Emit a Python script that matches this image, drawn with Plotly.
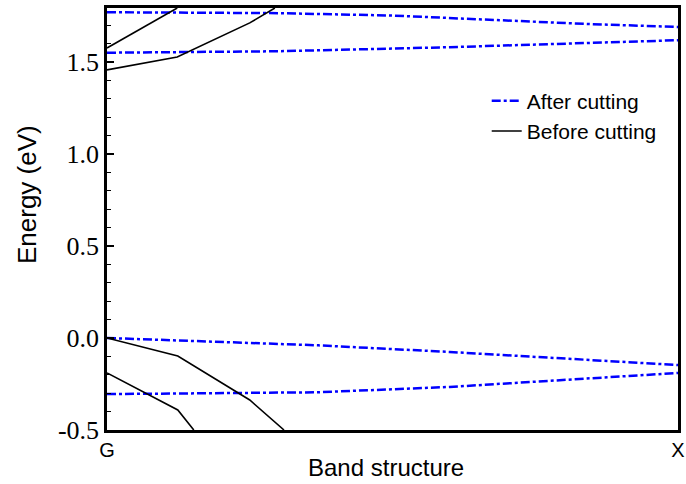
import plotly.graph_objects as go

# k-path positions (fraction from G to X)
after_k1 = [0.0, 0.3, 0.5, 0.7, 0.85, 1.0]
after_e1 = [1.770, 1.765, 1.752, 1.725, 1.705, 1.690]
after_k2 = [0.0, 0.3, 0.6, 1.0]
after_e2 = [1.550, 1.558, 1.580, 1.618]
after_k3 = [0.0, 0.37, 0.6, 1.0]
after_e3 = [0.000, -0.040, -0.076, -0.147]
after_k4 = [0.0, 0.37, 0.6, 1.0]
after_e4 = [-0.305, -0.295, -0.266, -0.190]

before_k1 = [0.0, 0.123]
before_e1 = [1.576, 1.793]
before_k2 = [0.0, 0.123, 0.250, 0.294]
before_e2 = [1.457, 1.527, 1.712, 1.793]
before_k3 = [0.0, 0.124, 0.250, 0.310]
before_e3 = [0.000, -0.098, -0.337, -0.500]
before_k4 = [0.0, 0.124, 0.152]
before_e4 = [-0.190, -0.391, -0.500]

ytick_vals = [-0.5, 0.0, 0.5, 1.0, 1.5]
ytick_text = ["-0.5", "0.0", "0.5", "1.0", "1.5"]
xtick_vals = [0.0, 1.0]
xtick_text = ["G", "X"]

SANS = "Liberation Sans, Arial, sans-serif"
SERIF = "Times New Roman, Liberation Serif, serif"

fig = go.Figure()
blue = dict(color="#0000FF", width=2.5, dash="dashdot")
black = dict(color="black", width=1.6)

after = [(after_k1, after_e1), (after_k2, after_e2), (after_k3, after_e3), (after_k4, after_e4)]
before = [(before_k1, before_e1), (before_k2, before_e2), (before_k3, before_e3), (before_k4, before_e4)]

for i, (k, e) in enumerate(after):
    fig.add_trace(go.Scatter(x=k, y=e, mode="lines", line=blue, name="After cutting",
                             legendgroup="after", showlegend=(i == 0)))
for i, (k, e) in enumerate(before):
    fig.add_trace(go.Scatter(x=k, y=e, mode="lines", line=black, name="Before cutting",
                             legendgroup="before", showlegend=(i == 0)))

fig.update_layout(
    width=686, height=484,
    margin=dict(l=107, r=8, t=8, b=54),
    plot_bgcolor="white", paper_bgcolor="white",
    showlegend=True,
    legend=dict(x=0.665, y=0.828, xanchor="left", yanchor="top",
                font=dict(family=SANS, size=21, color="black"),
                bgcolor="rgba(0,0,0,0)", tracegroupgap=0),
    annotations=[
        dict(text="Energy (eV)", xref="paper", yref="paper", x=-0.140, y=0.557,
             xanchor="center", yanchor="middle", textangle=-90, showarrow=False,
             font=dict(family=SANS, size=26, color="black")),
        dict(text="Band structure", xref="paper", yref="paper", x=0.489, y=-0.090,
             xanchor="center", yanchor="middle", showarrow=False,
             font=dict(family=SANS, size=24, color="black")),
    ],
)
fig.update_xaxes(
    range=[0, 1], tickvals=xtick_vals, ticktext=xtick_text, ticks="", ticklen=0, automargin=False,
    showline=True, linecolor="black", linewidth=2.5, mirror=True, showgrid=False, zeroline=False,
    tickfont=dict(family=SANS, size=20, color="black"),
)
fig.update_yaxes(
    range=[-0.5, 1.793], tickvals=ytick_vals, ticktext=ytick_text, automargin=False,
    ticks="inside", ticklen=7, tickwidth=1.5, tickcolor="black",
    minor=dict(dtick=0.1, ticks="inside", ticklen=4, tickwidth=1.2, tickcolor="black", showgrid=False),
    showline=True, linecolor="black", linewidth=2.5, mirror=True, showgrid=False, zeroline=False,
    tickfont=dict(family=SERIF, size=26, color="black"),
)

fig.write_html("out.html", config={"displayModeBar": False},
               post_script="document.body.style.margin='0';document.body.style.overflow='hidden';")
